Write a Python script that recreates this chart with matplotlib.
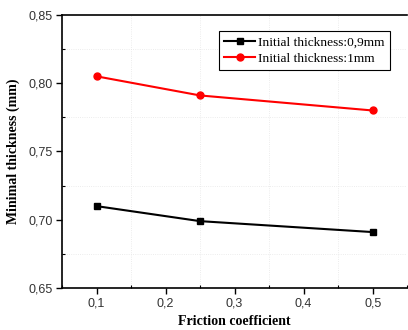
import matplotlib.pyplot as plt
from matplotlib.ticker import MultipleLocator

friction = [0.1, 0.25, 0.5]
thick_09 = [0.710, 0.699, 0.691]
thick_1 = [0.805, 0.791, 0.780]

fig = plt.figure(figsize=(4.08, 3.30), dpi=100)
ax = fig.add_axes([0.152, 0.127, 0.846, 0.828])

ax.plot(friction, thick_09, color="black", marker="s", markersize=5, lw=1.5,
        label="Initial thickness:0,9mm")
ax.plot(friction, thick_1, color="red", marker="o", markersize=5, lw=1.5,
        label="Initial thickness:1mm")

ax.set_xlim(0.05, 0.55)
ax.set_ylim(0.65, 0.85)
ax.xaxis.set_major_locator(MultipleLocator(0.1))
ax.xaxis.set_minor_locator(MultipleLocator(0.05))
ax.yaxis.set_major_locator(MultipleLocator(0.05))
ax.yaxis.set_minor_locator(MultipleLocator(0.025))

fmt_x = lambda v, p: f"{v:.1f}".replace(".", ",")
fmt_y = lambda v, p: f"{v:.2f}".replace(".", ",")
ax.xaxis.set_major_formatter(plt.FuncFormatter(fmt_x))
ax.yaxis.set_major_formatter(plt.FuncFormatter(fmt_y))

for lab in ax.get_xticklabels() + ax.get_yticklabels():
    lab.set_fontfamily("Liberation Sans")
ax.tick_params(which="major", direction="out", length=4, width=1,
               labelsize=9, labelcolor="#333333", pad=2.5)
ax.tick_params(which="minor", direction="in", length=2.5, width=0.8)

ax.grid(which="minor", color="#e6e6e6", lw=0.6, ls=":")
for s in ax.spines.values():
    s.set_linewidth(1.2)
ax.spines["right"].set_visible(False)

ax.set_xlabel("Friction coefficient", fontfamily="Liberation Serif",
              fontweight="bold", fontsize=10, labelpad=4)
ax.set_ylabel("Minimal thickness (mm)", fontfamily="Liberation Serif",
              fontweight="bold", fontsize=10, labelpad=6)

leg = ax.legend(loc="upper right", bbox_to_anchor=(0.97, 0.965),
                prop={"family": "Liberation Serif", "size": 9.6},
                fancybox=False, edgecolor="black", framealpha=1,
                borderpad=0.4, labelspacing=0.3, handlelength=2.3,
                handletextpad=0.25)
leg.get_frame().set_linewidth(0.8)

fig.savefig("out.png", dpi=100)
